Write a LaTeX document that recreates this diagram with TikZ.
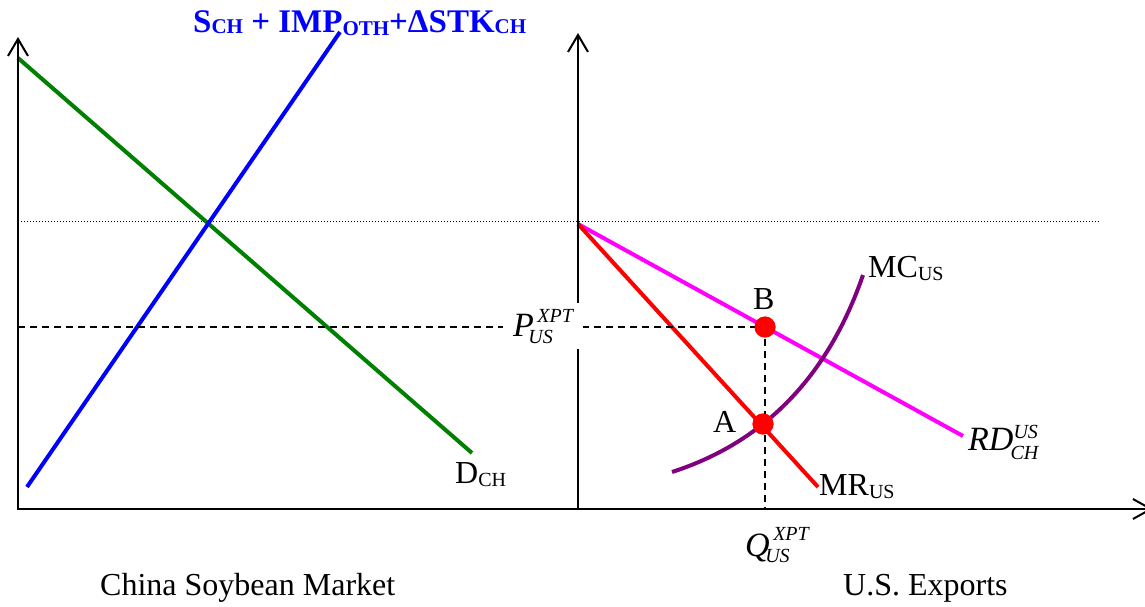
\documentclass[tikz,border=0pt]{standalone}
\usepackage{fontspec}
\setmainfont{Liberation Serif}
\usetikzlibrary{arrows.meta}
\definecolor{mgt}{RGB}{255,0,255}
\definecolor{prp}{RGB}{128,0,128}
\definecolor{grn}{RGB}{0,128,0}
\definecolor{blu}{RGB}{0,0,255}
\definecolor{rd}{RGB}{255,0,0}
\newcommand\lsz{\fontsize{32}{36}\selectfont}
\newcommand\isz{\fontsize{34}{38}\selectfont}
\newcommand\ssz{\fontsize{20}{22}\selectfont}
\newcommand\lowsub[2][3pt]{\raisebox{-#1}{\ssz #2}}
\newcommand\tsub[2][1pt]{\raisebox{-#1}{\fontsize{21}{22}\selectfont #2}}
\begin{document}
\begin{tikzpicture}[x=1pt,y=-1pt,
  curve/.style={line width=4pt},
  axis/.style={line width=2pt},
  upax/.style={axis, -{Straight Barb[length=17pt,width=20pt,line width=2pt]}},
  guide/.style={line width=1.5pt, dash pattern=on 7pt off 5pt},
  hdot/.style={line width=1pt, dash pattern=on 1pt off 2pt},
  lbl/.style={inner sep=0pt, anchor=base west, font=\lsz},
  ilbl/.style={lbl, font=\isz\itshape},
  dot/.style={circle, fill=rd, inner sep=0pt, minimum size=21pt}]
\useasboundingbox (0,0) rectangle (1145,606);
\clip (0,0) rectangle (1145,606);
% coordinates
\coordinate (O1) at (18,509);
\coordinate (Y1) at (18,37);
\coordinate (O2) at (578,509);
\coordinate (Y2) at (578,33);
\coordinate (X0) at (17,509);
\coordinate (X1) at (1153,509);
\coordinate (h0) at (18,221);
\coordinate (h1) at (1100,221);
\coordinate (s0) at (27,487);
\coordinate (s1) at (340,32);
\coordinate (d0) at (18,58);
\coordinate (d1) at (472,453);
\coordinate (r0) at (578,224);
\coordinate (r1) at (963,436);
\coordinate (m1) at (818,487);
\coordinate (c0) at (672,472);
\coordinate (c1) at (863,275);
\coordinate (pl) at (18,327);
\coordinate (qb) at (765,509);
% dotted reference line
\draw[hdot] (h0) -- (h1);
% left panel curves
\draw[curve, grn] (d0) -- (d1);
\draw[curve, blu] (s0) -- (s1);
% right panel curves
\draw[curve, mgt] (r0) -- (r1);
\draw[curve, rd] (r0) -- (m1);
\draw[curve, prp] (c0) .. controls (740,450) and (820,400) .. (c1);
% dots (positions)
\node[dot] (B) at (765,327) {};
\node[dot] (A) at (763,424) {};
% guides
\draw[guide] (pl) -- (B.center);
\draw[guide] (B.center) -- (qb);
% axes
\draw[axis, -{Straight Barb[length=18pt,width=20pt,line width=2pt]}] (X0) -- (X1);
\draw[upax] (O1) -- (Y1);
\draw[upax] (O2) -- (Y2);
\node[dot] (Btop) at (B) {};
\node[dot] (Atop) at (A) {};
% labels
\node[lbl, font=\fontsize{33}{36}\selectfont\bfseries, text=blu] (title) at (193,32)
  {S\tsub{CH} + IMP\tsub[3pt]{OTH}+ΔSTK\tsub{CH}};
\node[lbl] (dlab) at (455,483) {D\lowsub{CH}};
\node[lbl] (mclab) at (868,277) {MC\lowsub{US}};
\node[lbl] (mrlab) at (819,495) {MR\lowsub{US}};
\node[lbl] (alab) at (713,432) {A};
\node[lbl] (blab) at (753,309) {B};
\node[ilbl] (rdlab) at (968,450)
  {RD\rlap{\raisebox{12pt}{\ssz US}}\kern-3pt\raisebox{-9pt}{\ssz CH}};
\node[ilbl, fill=white, inner xsep=10pt, inner ysep=6pt] (plab) at (503,336)
  {P\kern-5.5pt\rlap{\raisebox{-7pt}{\ssz US}}\kern9pt\raisebox{14pt}{\ssz XPT}};
\node[ilbl] (qlab) at (745,556)
  {Q\kern-4.5pt\rlap{\raisebox{-6pt}{\ssz US}}\kern8pt\raisebox{16pt}{\ssz XPT}};
\node[lbl] (cname) at (100,595) {China Soybean Market};
\node[lbl] (uname) at (843,595) {U.S. Exports};
\end{tikzpicture}
\end{document}
